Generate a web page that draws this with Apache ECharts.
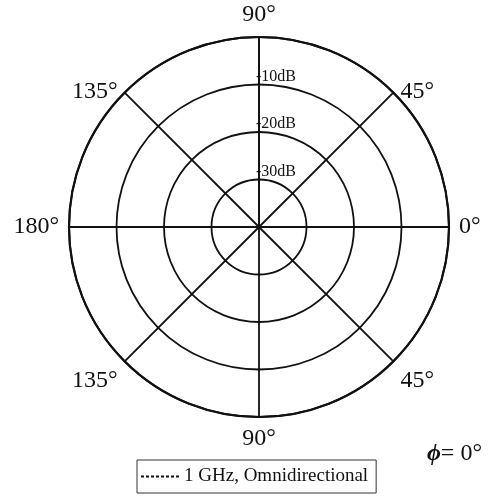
<!DOCTYPE html>
<html>
<head>
<meta charset="utf-8">
<script src="https://cdn.jsdelivr.net/npm/echarts@6/dist/echarts.min.js"></script>
<style>
  html, body { margin: 0; padding: 0; background: #fff; }
  #main { width: 499px; height: 501px; }
</style>
</head>
<body>
<div id="main"></div>
<script>
  // angle measured from 0 deg (right), counter clockwise
  var phiDeg = [0, 15, 30, 45, 60, 75, 90, 105, 120, 135, 150, 165, 180,
    195, 210, 225, 240, 255, 270, 285, 300, 315, 330, 345, 360];
  var gainDb = [0.3, 0.1, 0, 0, 0, 0, 0, 0, 0, 0, 0, 0, 0.1,
    0.1, 0, 0, 0.1, 0.2, 0.3, 0.3, 0.3, 0.3, 0.3, 0.3, 0.3];
  var ringDb = [-40, 0];
  var seriesName = '1 GHz, Omnidirectional';

  var myChart = echarts.init(document.getElementById('main'));
  var ink = '#111';
  var serif = '"Liberation Serif", "DejaVu Serif", serif';

  // startAngle 90 puts the dB axis straight up, so shift values by 90
  function toAxisAngle(a) {
    return (a - 90 + 360) % 360;
  }

  var data = [];
  for (var i = 0; i < phiDeg.length; i++) {
    data.push([gainDb[i], toAxisAngle(phiDeg[i])]);
  }

  var option = {
    backgroundColor: '#fff',
    animation: false,
    title: {
      right: 12,
      top: 437,
      text: '{i|\u03d5}= 0\u00b0',
      textStyle: {
        fontFamily: serif,
        fontSize: 24,
        fontWeight: 'normal',
        color: ink,
        rich: {
          i: { fontFamily: serif, fontSize: 24, fontStyle: 'italic', fontWeight: 'bold', color: ink }
        }
      }
    },
    legend: {
      data: [seriesName],
      left: 137,
      top: 460,
      padding: [7, 8, 7, 3],
      borderColor: '#333',
      borderWidth: 1,
      borderRadius: 0,
      itemWidth: 38,
      itemHeight: 12,
      itemStyle: { color: 'transparent', borderWidth: 0 },
      textStyle: { fontFamily: serif, fontSize: 19, color: ink }
    },
    polar: {
      center: [259, 227],
      radius: 190
    },
    angleAxis: {
      type: 'value',
      min: 0,
      max: 360,
      interval: 45,
      startAngle: 90,
      clockwise: false,
      axisLine: { lineStyle: { color: ink, width: 2.2 } },
      axisTick: { show: false },
      splitLine: { show: true, lineStyle: { color: ink, width: 1.8 } },
      axisLabel: {
        margin: 10,
        fontFamily: serif,
        fontSize: 24,
        color: ink,
        rich: {
          // upper diagonal labels sit lower in the original
          up: { fontFamily: serif, fontSize: 24, color: ink, padding: [0, 0, -18, 0] }
        },
        formatter: function (v) {
          var a = (v + 90) % 360;
          var txt = (a <= 180 ? a : 360 - a) + '\u00b0';
          if (a === 45 || a === 135) return '{up|' + txt + '}';
          return txt;
        }
      }
    },
    radiusAxis: {
      type: 'value',
      min: ringDb[0],
      max: ringDb[1],
      interval: 10,
      axisLine: { lineStyle: { color: ink, width: 1.8 } },
      axisTick: { show: false },
      splitLine: { show: true, lineStyle: { color: ink, width: 1.8 } },
      axisLabel: {
        margin: 3,
        fontFamily: serif,
        fontSize: 16,
        color: ink,
        align: 'left',
        verticalAlign: 'bottom',
        formatter: function (v) {
          if (v === ringDb[0] || v === ringDb[1]) return '';
          return v + 'dB';
        }
      }
    },
    series: [{
      name: seriesName,
      type: 'line',
      coordinateSystem: 'polar',
      symbol: 'none',
      smooth: true,
      lineStyle: { color: ink, width: 1.5, type: [3, 2] },
      itemStyle: { color: ink },
      data: data
    }]
  };
  myChart.setOption(option);
</script>
</body>
</html>
